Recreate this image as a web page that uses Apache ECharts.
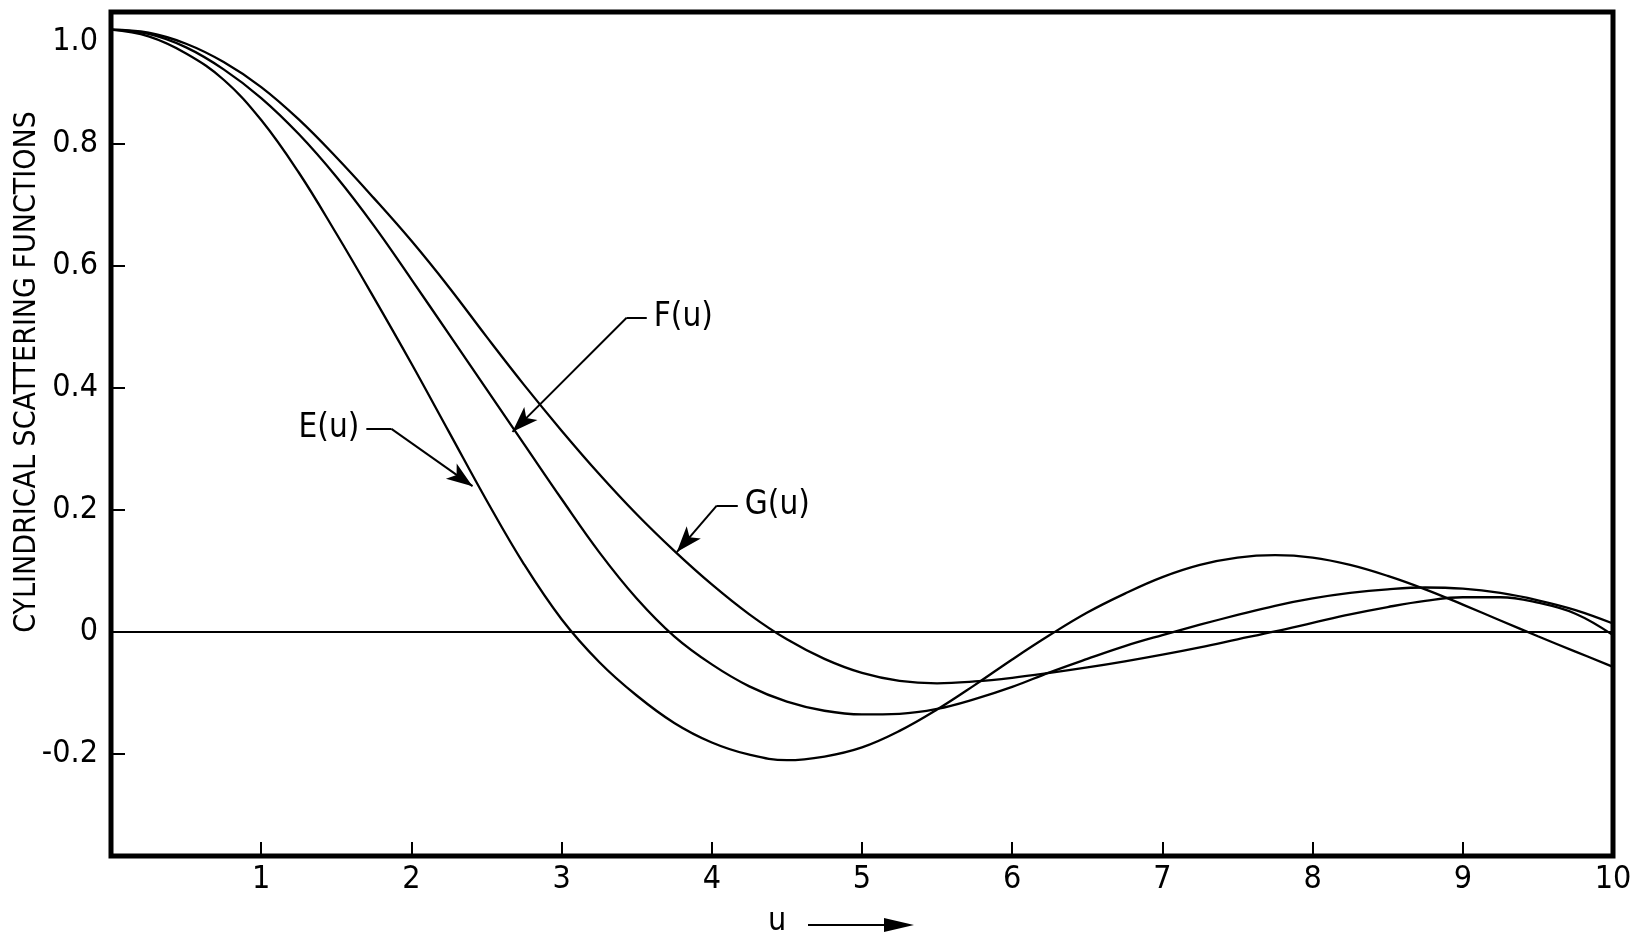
<!DOCTYPE html>
<html>
<head>
<meta charset="utf-8">
<script src="https://cdn.jsdelivr.net/npm/echarts@6/dist/echarts.min.js"></script>
<style>
  html, body { margin: 0; padding: 0; background: #fff; }
  #chart { width: 1636px; height: 941px; }
</style>
</head>
<body>
<div id="chart"></div>
<script>
// ---- data ----
const uValues = [0, 0.25, 0.5, 0.75, 1, 1.25, 1.5, 1.75, 2, 2.25, 2.5, 2.75, 3, 3.25, 3.5, 3.75, 4, 4.25, 4.5, 4.75, 5,
                 5.25, 5.5, 5.75, 6, 6.25, 6.5, 6.75, 7, 7.25, 7.5, 7.75, 8, 8.25, 8.5, 8.75, 9, 9.25, 9.5, 9.75, 10];
const eValues = [0.987, 0.976, 0.948, 0.905, 0.839, 0.753, 0.653, 0.548, 0.440, 0.328, 0.216, 0.111, 0.021, -0.049, -0.104, -0.149, -0.181, -0.201, -0.210, -0.204, -0.189,
                 -0.162, -0.127, -0.087, -0.045, -0.005, 0.032, 0.063, 0.090, 0.110, 0.122, 0.126, 0.122, 0.110, 0.092, 0.070, 0.045, 0.019, -0.007, -0.032, -0.057];
const fValues = [0.987, 0.980, 0.958, 0.922, 0.875, 0.816, 0.746, 0.666, 0.578, 0.488, 0.398, 0.308, 0.218, 0.131, 0.055, -0.007, -0.053, -0.089, -0.114, -0.129, -0.135,
                 -0.134, -0.126, -0.110, -0.090, -0.066, -0.044, -0.023, -0.005, 0.012, 0.028, 0.043, 0.055, 0.064, 0.070, 0.073, 0.071, 0.064, 0.052, 0.036, 0.014];
const gValues = [0.987, 0.982, 0.964, 0.934, 0.893, 0.840, 0.778, 0.711, 0.641, 0.565, 0.484, 0.405, 0.330, 0.259, 0.193, 0.133, 0.078, 0.029, -0.012, -0.044, -0.067,
                 -0.080, -0.084, -0.081, -0.075, -0.067, -0.058, -0.048, -0.037, -0.025, -0.012, 0.001, 0.015, 0.029, 0.041, 0.051, 0.057, 0.057, 0.048, 0.030, -0.005];
const seriesNames = ['E(u)', 'F(u)', 'G(u)'];
const xTickLabels = [1, 2, 3, 4, 5, 6, 7, 8, 9, 10];
const xTickMarks = [1, 2, 3, 4, 5, 6, 7, 8, 9];
const yTickLabels = [-0.2, 0, 0.2, 0.4, 0.6, 0.8, 1.0];
const yTickMarks = [-0.2, 0.2, 0.4, 0.6, 0.8];
const yTitle = 'CYLINDRICAL SCATTERING FUNCTIONS';
const xTitle = 'u';
// annotation leaders in data coordinates: [corner, stubEnd, arrowTip]
const annCorner = [[1.867, 0.333], [3.433, 0.515], [4.033, 0.207]];
const annStubEnd = [[1.70, 0.333], [3.567, 0.515], [4.173, 0.207]];
const annTip = [[2.407, 0.239], [2.673, 0.328], [3.767, 0.131]];

// ---- chart ----
const FONT = '"Liberation Sans Narrow", "DejaVu Sans Condensed", "Roboto Condensed", sans-serif';
const chart = echarts.init(document.getElementById('chart'), null, { renderer: 'canvas' });

function pairs(vals) { return uValues.map((u, i) => [u, vals[i]]); }
const curveData = [eValues, fValues, gValues];

const annLines = [];
for (let i = 0; i < seriesNames.length; i++) {
  annLines.push([
    { coord: annCorner[i], symbol: 'none' },
    { coord: annStubEnd[i], symbol: 'none',
      label: { show: true, position: 'end', formatter: seriesNames[i], distance: 7,
               fontFamily: FONT, fontSize: 33, color: '#000' } }
  ]);
  annLines.push([
    { coord: annCorner[i], symbol: 'none' },
    { coord: annTip[i], symbol: 'arrow', symbolSize: [14, 26], label: { show: false } }
  ]);
}

const series = seriesNames.map((name, i) => ({
  name: name,
  type: 'line',
  data: pairs(curveData[i]),
  smooth: 0.4,
  showSymbol: false,
  silent: true,
  lineStyle: { color: '#000', width: 2.3 },
  z: 3
}));

series.push({
  type: 'line',
  data: [],
  silent: true,
  markLine: {
    silent: true,
    animation: false,
    symbol: 'none',
    label: { show: false },
    lineStyle: { color: '#000', width: 2, type: 'solid' },
    emphasis: { disabled: true },
    data: [{ yAxis: 0 }].concat(annLines)
  }
});

chart.setOption({
  animation: false,
  backgroundColor: '#fff',
  grid: {
    left: 111, top: 12, width: 1502, height: 844,
    show: true, borderColor: '#000', borderWidth: 5, backgroundColor: 'transparent'
  },
  xAxis: {
    type: 'value', min: 0, max: 10, interval: 1,
    axisLine: { show: false, onZero: false },
    splitLine: { show: false },
    axisTick: { show: true, inside: true, length: 14, customValues: xTickMarks,
                lineStyle: { color: '#000', width: 2 } },
    axisLabel: { customValues: xTickLabels, margin: 8, fontFamily: FONT, fontSize: 32, color: '#000' }
  },
  yAxis: {
    type: 'value', min: -0.367, max: 1.016,
    axisLine: { show: false, onZero: false },
    splitLine: { show: false },
    axisTick: { show: true, inside: true, length: 14, customValues: yTickMarks,
                lineStyle: { color: '#000', width: 2 } },
    axisLabel: {
      customValues: yTickLabels, margin: 13, fontFamily: FONT, fontSize: 32, color: '#000',
      formatter: function (v) {
        if (Math.abs(v) < 1e-9) return '0';
        if (Math.abs(v - 1) < 1e-9) return '{one|1.0}';
        return v.toFixed(1);
      },
      rich: { one: { fontFamily: FONT, fontSize: 32, color: '#000', padding: [40, 0, 0, 0] } }
    }
  },
  graphic: [
    { type: 'text', x: 27, y: 372, rotation: Math.PI / 2,
      style: { text: yTitle, fontFamily: FONT, fontSize: 30, fill: '#000', align: 'center', verticalAlign: 'middle' } },
    { type: 'text', x: 777, y: 922,
      style: { text: xTitle, fontFamily: FONT, fontSize: 32, fill: '#000', align: 'center', verticalAlign: 'middle' } },
    { type: 'line', shape: { x1: 808, y1: 925, x2: 892, y2: 925 }, style: { stroke: '#000', lineWidth: 2 } },
    { type: 'polygon', shape: { points: [[884, 918], [914, 925], [884, 932]] }, style: { fill: '#000' } }
  ],
  series: series
});
</script>
</body>
</html>
